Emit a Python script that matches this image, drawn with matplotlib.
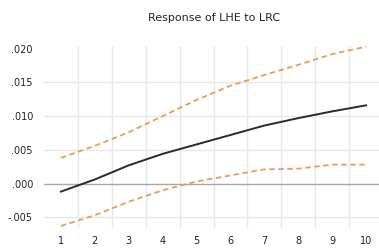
import numpy as np
import matplotlib
matplotlib.use("Agg")
import matplotlib.pyplot as plt

periods = [1, 2, 3, 4, 5, 6, 7, 8, 9, 10]
response = [-0.0012, 0.0006, 0.0027, 0.0044, 0.0058, 0.0072, 0.0086, 0.0097, 0.0107, 0.0116]
upper = [0.0038, 0.0056, 0.0076, 0.0100, 0.0124, 0.0145, 0.0161, 0.0176, 0.0192, 0.0203]
lower = [-0.0063, -0.0047, -0.0027, -0.0010, 0.0003, 0.0012, 0.0021, 0.0022, 0.0028, 0.0028]
yticks = [-0.005, 0.0, 0.005, 0.010, 0.015, 0.020]
ytick_labels = ["-.005", ".000", ".005", ".010", ".015", ".020"]

fig = plt.figure(figsize=(3.79, 2.49), dpi=100)
ax = fig.add_axes([44 / 379, 21 / 249, 339 / 379, 182 / 249])

# grid: vertical lines sit between periods, no line on the top value
for xv in np.arange(1.5, 10, 1.0):
    ax.axvline(xv, color="#e8e8e8", lw=1.0, zorder=0)
for yv in yticks[:-1]:
    ax.axhline(yv, color="#a8a8a8" if yv == 0 else "#e8e8e8", lw=1.0, zorder=0)

ax.plot(periods, upper, color="#ec9a5c", lw=1.3, ls=(0, (3, 2)), clip_on=False)
ax.plot(periods, lower, color="#ec9a5c", lw=1.3, ls=(0, (3, 2)), clip_on=False)
ax.plot(periods, response, color="#2a2a2a", lw=1.4)

ax.set_xlim(0.5, 10.5)
ax.set_ylim(-0.0066, 0.0204)
ax.set_xticks(periods)
ax.set_xticklabels([str(p) for p in periods])
ax.set_yticks(yticks)
ax.set_yticklabels(ytick_labels)
ax.tick_params(length=0, labelsize=7, colors="#222222")
ax.tick_params(axis="y", pad=8)
ax.tick_params(axis="x", pad=6)
for s in ax.spines.values():
    s.set_visible(False)

fig.text(214 / 379, 1 - 18 / 249, "Response of LHE to LRC", ha="center", va="center",
         fontsize=8, color="#222222")

fig.savefig("out.png", dpi=100)
